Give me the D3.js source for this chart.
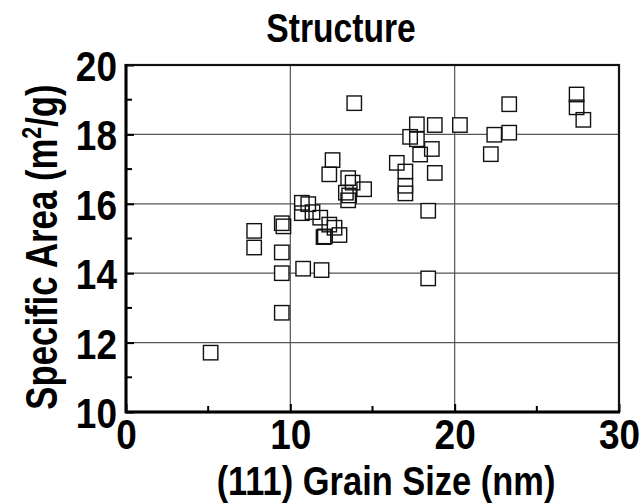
<!DOCTYPE html>
<html>
<head>
<meta charset="utf-8">
<script src="https://cdn.jsdelivr.net/npm/d3@7"></script>
<style>
  html, body { margin: 0; padding: 0; background: #fff; }
  svg { display: block; }
  text { font-family: "Liberation Sans", Arial, sans-serif; font-weight: bold; fill: #000; }
</style>
</head>
<body>
<svg id="chart" width="643" height="503"></svg>
<script>
// (111) grain size in nm, one entry per sample
const grainSize = [
  5.15, 7.80, 7.80, 9.48, 9.58, 9.48, 9.48, 9.48, 10.78, 11.90,
  10.70, 11.09, 10.70, 11.35, 11.82, 12.37, 12.69, 12.02, 12.10, 12.99,
  13.89, 12.57, 12.37, 13.52, 13.79, 14.49, 13.38, 13.58, 13.52, 16.48,
  17.00, 17.00, 17.00, 17.29, 17.70, 17.70, 17.90, 18.61, 18.79, 18.79,
  20.32, 18.39, 18.39, 22.20, 22.41, 23.32, 23.32, 27.42, 27.42, 27.83
];
// specific surface area in m²/g, same order as grainSize
const specificArea = [
  11.71, 15.22, 14.74, 15.44, 15.35, 14.60, 14.00, 12.86, 14.13, 14.09,
  16.03, 15.99, 15.73, 15.76, 15.60, 15.40, 15.31, 15.04, 15.06, 15.10,
  18.90, 17.26, 16.85, 16.74, 16.61, 16.42, 16.32, 16.24, 16.10, 17.18,
  16.93, 16.52, 16.30, 17.93, 17.86, 18.29, 17.42, 17.58, 18.27, 16.89,
  18.27, 15.80, 13.85, 17.43, 17.99, 18.87, 18.05, 19.15, 18.78, 18.42
];
const xTickValues = [0, 10, 20, 30];
const xMinorTicks = [5, 15, 25];
const yTickValues = [10, 12, 14, 16, 18, 20];
const yMinorTicks = [11, 13, 15, 17, 19];
const xGrid = [10, 20];
const yGrid = [12, 14, 16, 18];

const svg = d3.select("#chart");
const plotL = 126, plotR = 619, plotT = 65, plotB = 412;
const narrow = 0.86;   // horizontal squeeze giving a condensed bold face

const x = d3.scaleLinear().domain([0, 30]).range([plotL, plotR]);
const y = d3.scaleLinear().domain([10, 20]).range([plotB, plotT]);

// grid
svg.append("g").selectAll("line").data(xGrid).join("line")
  .attr("x1", d => x(d)).attr("x2", d => x(d))
  .attr("y1", plotT).attr("y2", plotB)
  .attr("stroke", "#555").attr("stroke-width", 1.2);
svg.append("g").selectAll("line").data(yGrid).join("line")
  .attr("x1", plotL).attr("x2", plotR)
  .attr("y1", d => y(d)).attr("y2", d => y(d))
  .attr("stroke", "#555").attr("stroke-width", 1.2);

// markers: white fills first, then every outline on top
const pts = grainSize.map((g, i) => [g, specificArea[i]]);
const half = 7.2;
svg.append("g").selectAll("rect").data(pts).join("rect")
  .attr("x", d => x(d[0]) - half).attr("y", d => y(d[1]) - half)
  .attr("width", half * 2).attr("height", half * 2)
  .attr("fill", "#fff").attr("stroke", "none");
svg.append("g").selectAll("rect").data(pts).join("rect")
  .attr("x", d => x(d[0]) - half).attr("y", d => y(d[1]) - half)
  .attr("width", half * 2).attr("height", half * 2)
  .attr("fill", "none").attr("stroke", "#111").attr("stroke-width", 1.4);

// axes
const xAxis = d3.axisBottom(x).tickValues(xTickValues).tickSize(-8).tickFormat(d3.format("d"));
const yAxis = d3.axisLeft(y).tickValues(yTickValues).tickSize(-8).tickFormat(d3.format("d"));

const gx = svg.append("g").attr("transform", `translate(0,${plotB})`).call(xAxis);
const gy = svg.append("g").attr("transform", `translate(${plotL},0)`).call(yAxis);
[gx, gy].forEach(g => {
  g.select(".domain").remove();
  g.selectAll(".tick line").attr("stroke", "#000").attr("stroke-width", 2);
  g.selectAll(".tick text").style("font-size", "43px").attr("fill", "#000")
    .attr("transform", `scale(${narrow},1)`);
});
gx.selectAll(".tick text").attr("y", 37).attr("dy", null);
gy.selectAll(".tick text").attr("x", -9 / narrow).attr("dy", "0.36em");

// minor ticks
svg.append("g").selectAll("line").data(xMinorTicks).join("line")
  .attr("x1", d => x(d)).attr("x2", d => x(d))
  .attr("y1", plotB).attr("y2", plotB - 6)
  .attr("stroke", "#000").attr("stroke-width", 2);
svg.append("g").selectAll("line").data(yMinorTicks).join("line")
  .attr("x1", plotL).attr("x2", plotL + 6)
  .attr("y1", d => y(d)).attr("y2", d => y(d))
  .attr("stroke", "#000").attr("stroke-width", 2);

// frame
svg.append("rect").attr("x", plotL).attr("y", plotT)
  .attr("width", plotR - plotL).attr("height", plotB - plotT)
  .attr("fill", "none").attr("stroke", "#111").attr("stroke-width", 2.2);
svg.append("line").attr("x1", plotL).attr("x2", plotL).attr("y1", plotT - 1).attr("y2", plotB + 1)
  .attr("stroke", "#000").attr("stroke-width", 3);
svg.append("line").attr("x1", plotL - 1).attr("x2", plotR + 1).attr("y1", plotB).attr("y2", plotB)
  .attr("stroke", "#000").attr("stroke-width", 3);

// titles
svg.append("text").attr("transform", `translate(341,42) scale(0.82,1)`)
  .attr("text-anchor", "middle").style("font-size", "41px").text("Structure");

svg.append("text").attr("transform", `translate(386,495) scale(0.84,1)`)
  .attr("text-anchor", "middle").style("font-size", "41px").text("(111) Grain Size (nm)");

const yl = svg.append("text")
  .attr("transform", `translate(57,247) rotate(-90) scale(0.79,1)`)
  .attr("text-anchor", "middle")
  .style("font-size", "44px");
yl.append("tspan").text("Specific Area (m");
yl.append("tspan").attr("dy", -16).style("font-size", "27px").text("2");
yl.append("tspan").attr("dy", 16).text("/g)");
</script>
</body>
</html>
